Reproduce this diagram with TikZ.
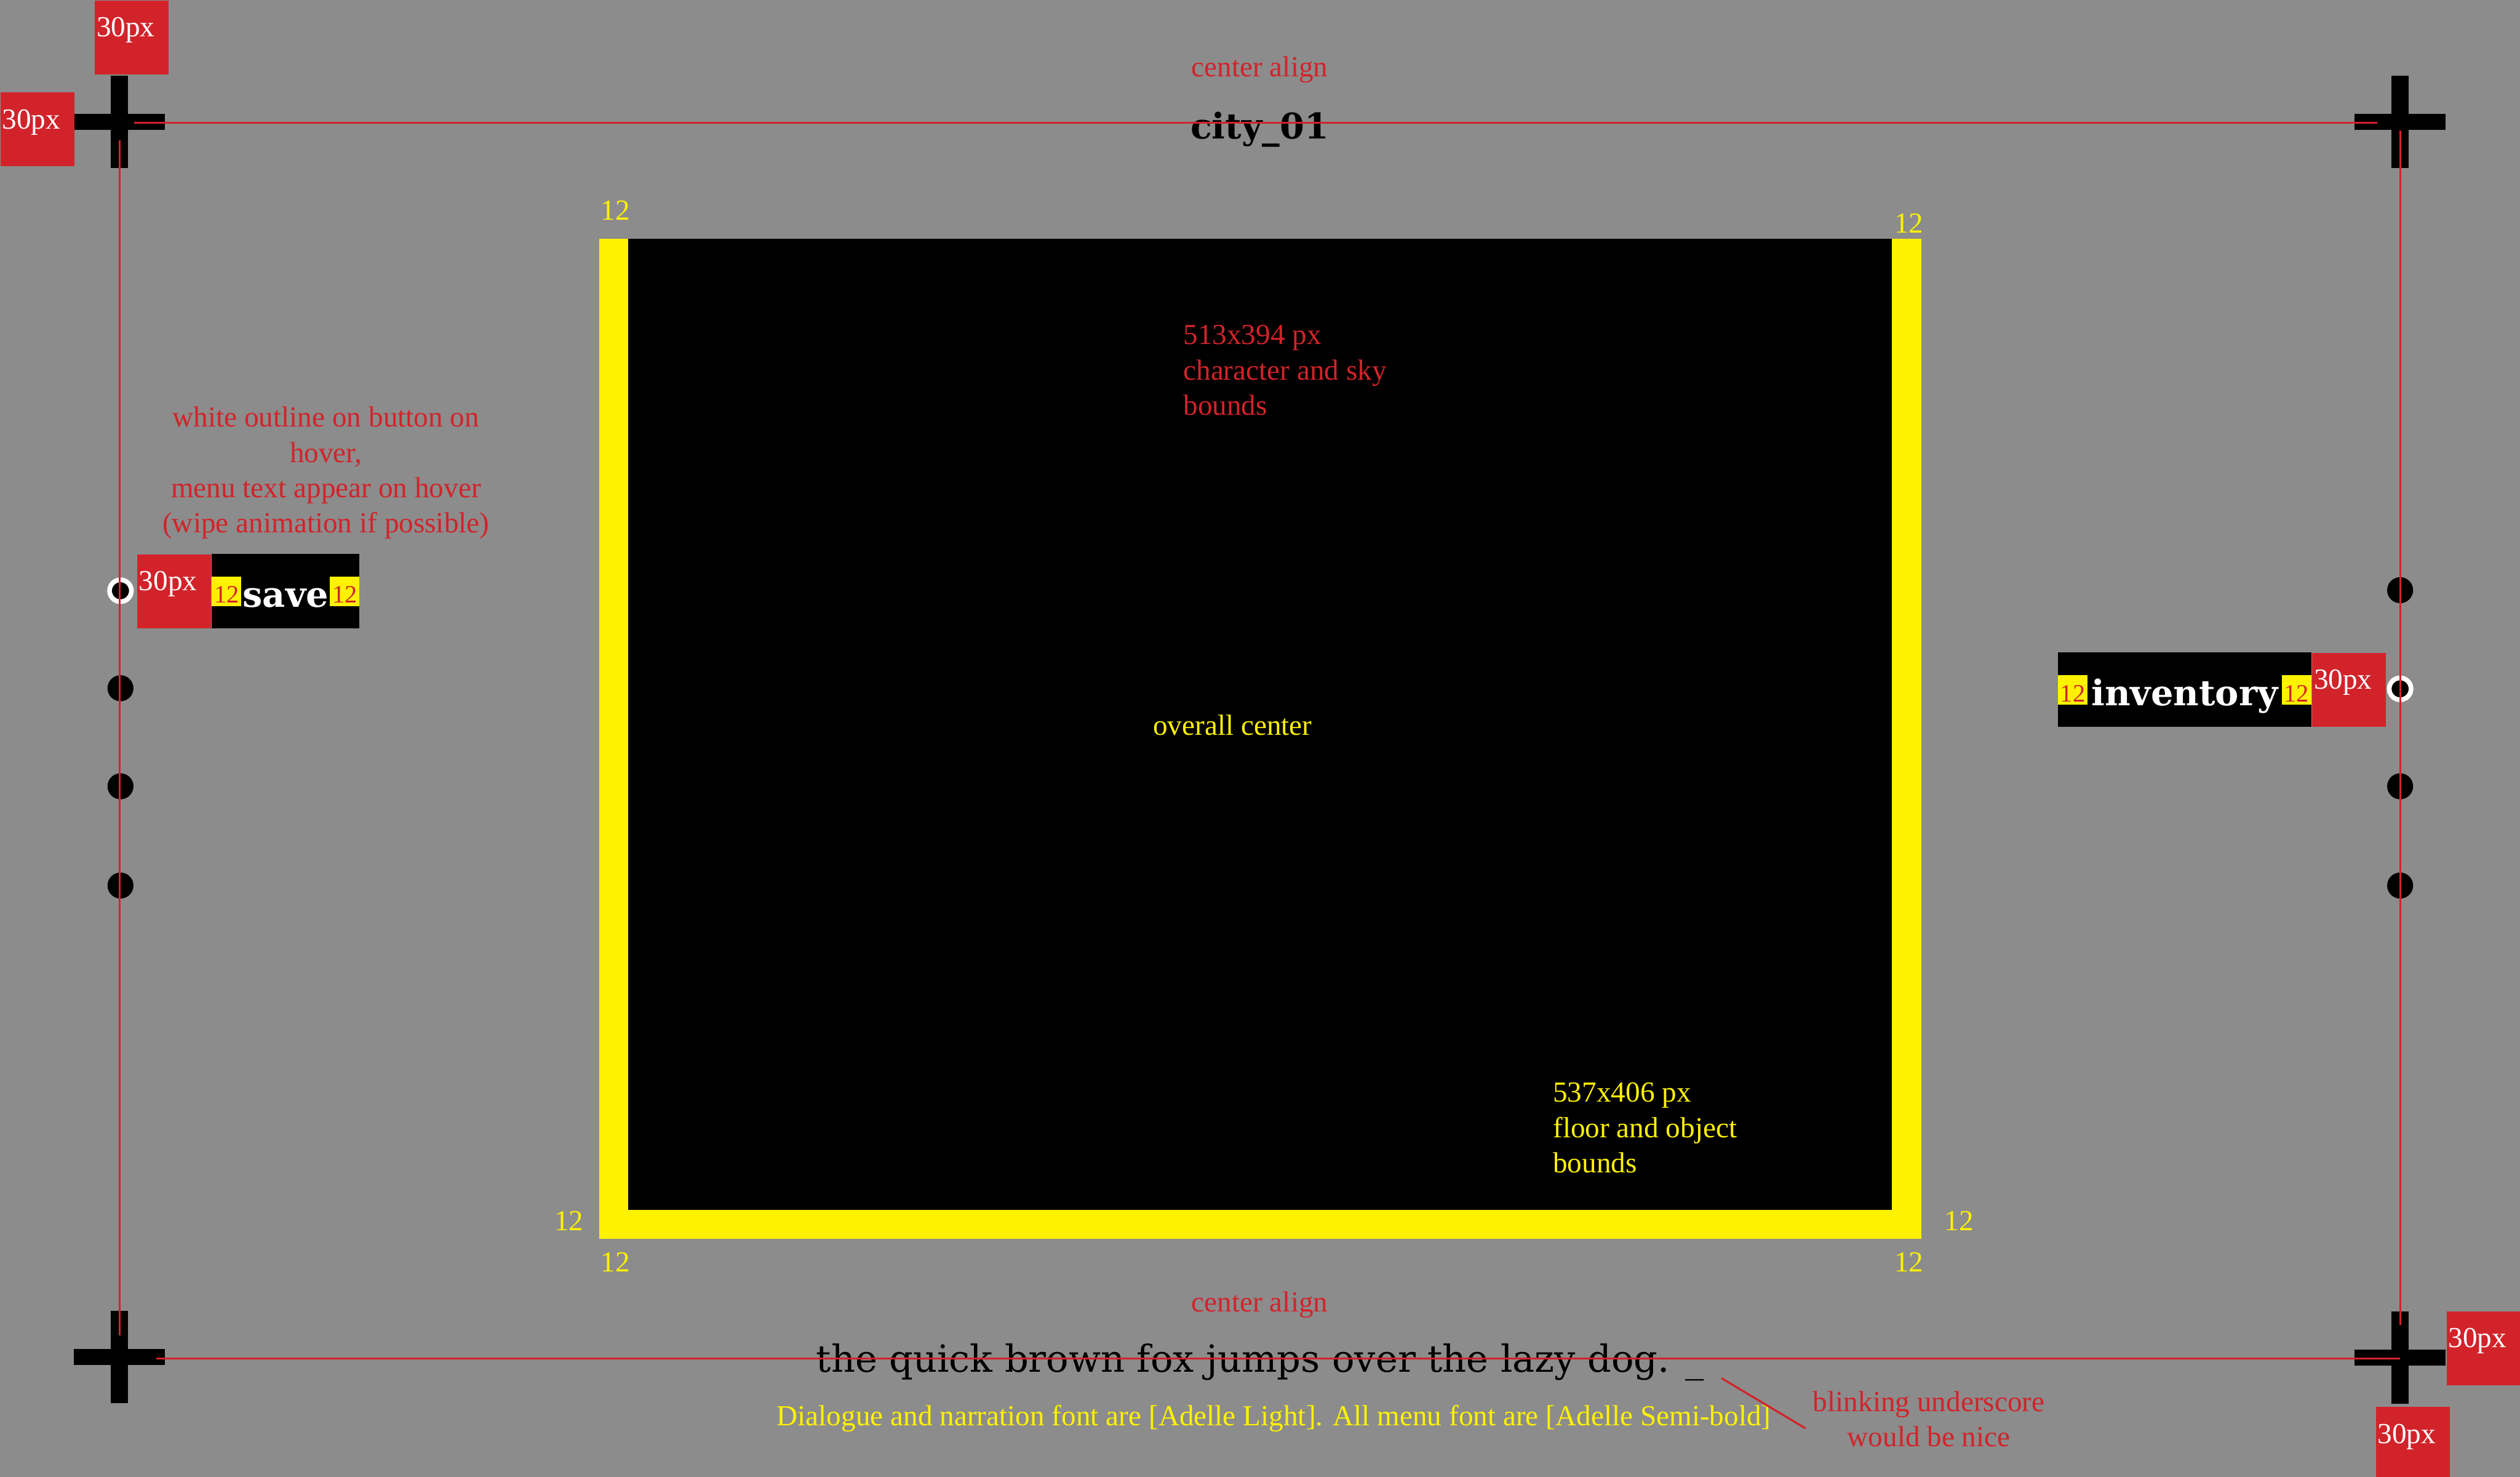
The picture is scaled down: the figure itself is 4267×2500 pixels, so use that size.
\documentclass[tikz,border=0pt]{standalone}
\usepackage{fontspec}
\setmainfont{Liberation Serif}
\newfontfamily\slabfont{DejaVu Serif}
\usetikzlibrary{positioning, calc}

\definecolor{bggray}{RGB}{140,140,140}
\definecolor{guidered}{RGB}{210,35,42}
\definecolor{markyellow}{RGB}{255,242,0}

\newcommand{\annofont}{\fontsize{14pt}{17pt}\selectfont}
\newcommand{\padfont}{\fontsize{12pt}{14pt}\selectfont}
\newcommand{\menufont}{\slabfont\bfseries\fontsize{17pt}{20pt}\selectfont}
\newcommand{\dialfont}{\slabfont\fontsize{18pt}{21pt}\selectfont}

\begin{document}
\begin{tikzpicture}[
  x=0.1mm, y=-0.1mm,
  annotext/.style={font=\annofont, text=guidered, inner sep=0pt},
  yellowtext/.style={font=\annofont, text=markyellow, inner sep=0pt},
  pxbox/.style={fill=guidered, anchor=north west, inner sep=0pt,
                minimum width=12.5mm, minimum height=12.5mm},
  pxtag/.style={font=\annofont, text=white, inner sep=0pt, anchor=base west},
  padtag/.style={fill=markyellow, text=guidered, font=\padfont,
                 minimum width=5mm, minimum height=5mm, inner sep=0pt,
                 text height=4mm, text depth=0pt},
  menubtn/.style={fill=black, text=white, font=\menufont, inner sep=0pt,
                  text height=5.4mm, text depth=0pt, minimum height=12.6mm},
  navdot/.style={circle, fill=black, minimum size=4.4mm, inner sep=0pt},
  hoverdot/.style={circle, fill=black, draw=white, line width=0.8mm,
                   minimum size=3.7mm, inner sep=0pt},
  guideline/.style={draw=guidered, line width=0.33mm},
]

% ------------------- canvas -------------------
\fill[bggray] (0,0) rectangle (4267,2500);
\useasboundingbox (0,0) rectangle (4267,2500);

% corner crosses
\foreach \cx/\cy in {202/206, 4064/206, 202/2297, 4064/2298}{
  \fill[black] (\cx-14.5,\cy-78) rectangle (\cx+14.5,\cy+78);
  \fill[black] (\cx-77,\cy-13.5) rectangle (\cx+77,\cy+13.5);
}

% 30px margin markers
\node[pxbox] (pxtop) at (160,0) {};
\node[pxtag] (pxtoptxt) at ($(pxtop.north west)+(3,62)$) {30px};
\node[pxbox] (pxleft) at (0,156) {};
\node[pxtag] (pxlefttxt) at ($(pxleft.north west)+(3,62)$) {30px};
\node[pxbox] (pxright) at (4142,2219) {};
\node[pxtag] (pxrighttxt) at ($(pxright.north west)+(3,62)$) {30px};
\node[pxbox] (pxbottom) at (4022,2381) {};
\node[pxtag] (pxbottomtxt) at ($(pxbottom.north west)+(3,62)$) {30px};

% ------------------- play area -------------------
\node[fill=markyellow, anchor=north west, inner sep=0pt,
      minimum width=223.9mm, minimum height=169.3mm] (floor) at (1014,403) {};
\node[fill=black, anchor=north west, inner sep=0pt,
      minimum width=214mm, minimum height=164.4mm] (sky) at (1063,403) {};

\node[yellowtext, anchor=base west] (tagtl) at (1017,372) {12};
\node[yellowtext, anchor=base west] (tagtr) at (3207,394) {12};
\node[yellowtext, anchor=base west] (tagbl) at (938,2083) {12};
\node[yellowtext, anchor=base west] (tagbr) at (3292,2083) {12};
\node[yellowtext, anchor=base west] (tagbl2) at (1017,2153) {12};
\node[yellowtext, anchor=base west] (tagbr2) at (3207,2153) {12};

\node[annotext, align=left, anchor=north west] (skybounds) at (2003,550)
  {513x394 px\\character and sky\\bounds};
\node[yellowtext, anchor=base] (center) at (2087,1244) {overall center};
\node[yellowtext, align=left, anchor=north west] (floorbounds) at (2629,1832)
  {537x406 px\\floor and object\\bounds};

% ------------------- header -------------------
\node[annotext, anchor=base] (aligntop) at (2133,130) {center align};
\node[font=\menufont, anchor=base, inner sep=0pt] (cityhdr) at (2133,235) {city\_01};

% ------------------- left menu -------------------
\node[annotext, align=center, anchor=north] (hovernote) at (552,688)
  {white outline on button on\\hover,\\menu text appear on hover\\(wipe animation if possible)};

\node[menubtn, minimum width=25mm, anchor=north west] (savebtn) at (358,937) {save};
\node[padtag, anchor=west] (savepadl) at (savebtn.west) {12};
\node[padtag, anchor=east] (savepadr) at (savebtn.east) {12};
\node[pxbox, anchor=east] (savepx) at (savebtn.west) {};
\node[pxtag] (savepxtxt) at ($(savepx.north west)+(3,62)$) {30px};

\node[hoverdot] (savedot) at (204,1000) {};
\node[navdot] (ldot2) at (204,1165) {};
\node[navdot] (ldot3) at (204,1331) {};
\node[navdot] (ldot4) at (204,1499) {};

% ------------------- right menu -------------------
\node[menubtn, minimum width=42.9mm, anchor=north west] (invbtn) at (3484,1104) {inventory};
\node[padtag, anchor=west] (invpadl) at (invbtn.west) {12};
\node[padtag, anchor=east] (invpadr) at (invbtn.east) {12};
\node[pxbox, anchor=west] (invpx) at (invbtn.east) {};
\node[pxtag] (invpxtxt) at ($(invpx.north west)+(3,62)$) {30px};

\node[navdot] (rdot1) at (4064,999) {};
\node[hoverdot] (invdot) at (4064,1166) {};
\node[navdot] (rdot3) at (4064,1331) {};
\node[navdot] (rdot4) at (4064,1499) {};

% ------------------- dialogue line -------------------
\node[annotext, anchor=base] (alignbot) at (2133,2220) {center align};
\node[font=\dialfont, anchor=base, inner sep=0pt] (foxline) at (2134,2323)
  {the quick brown fox jumps over the lazy dog. \_};
\node[yellowtext, anchor=base] (fontnote) at (2157,2413)
  {Dialogue and narration font are [Adelle Light]. All menu font are [Adelle Semi-bold]};

\node[annotext, align=center, anchor=north] (blinknote) at (3266,2354)
  {blinking underscore\\would be nice};
\coordinate (cursor) at (2915,2333);
\draw[guideline] (cursor) -- ($(blinknote.west)+(-12,16)$);

% safe-area guides
\draw[guideline] (227,208) -- (4025,208);
\draw[guideline] (203,238) -- (203,2261);
\draw[guideline] (4064,221) -- (4064,2243);
\draw[guideline] (265,2300) -- (4064,2300);

\end{tikzpicture}
\end{document}
